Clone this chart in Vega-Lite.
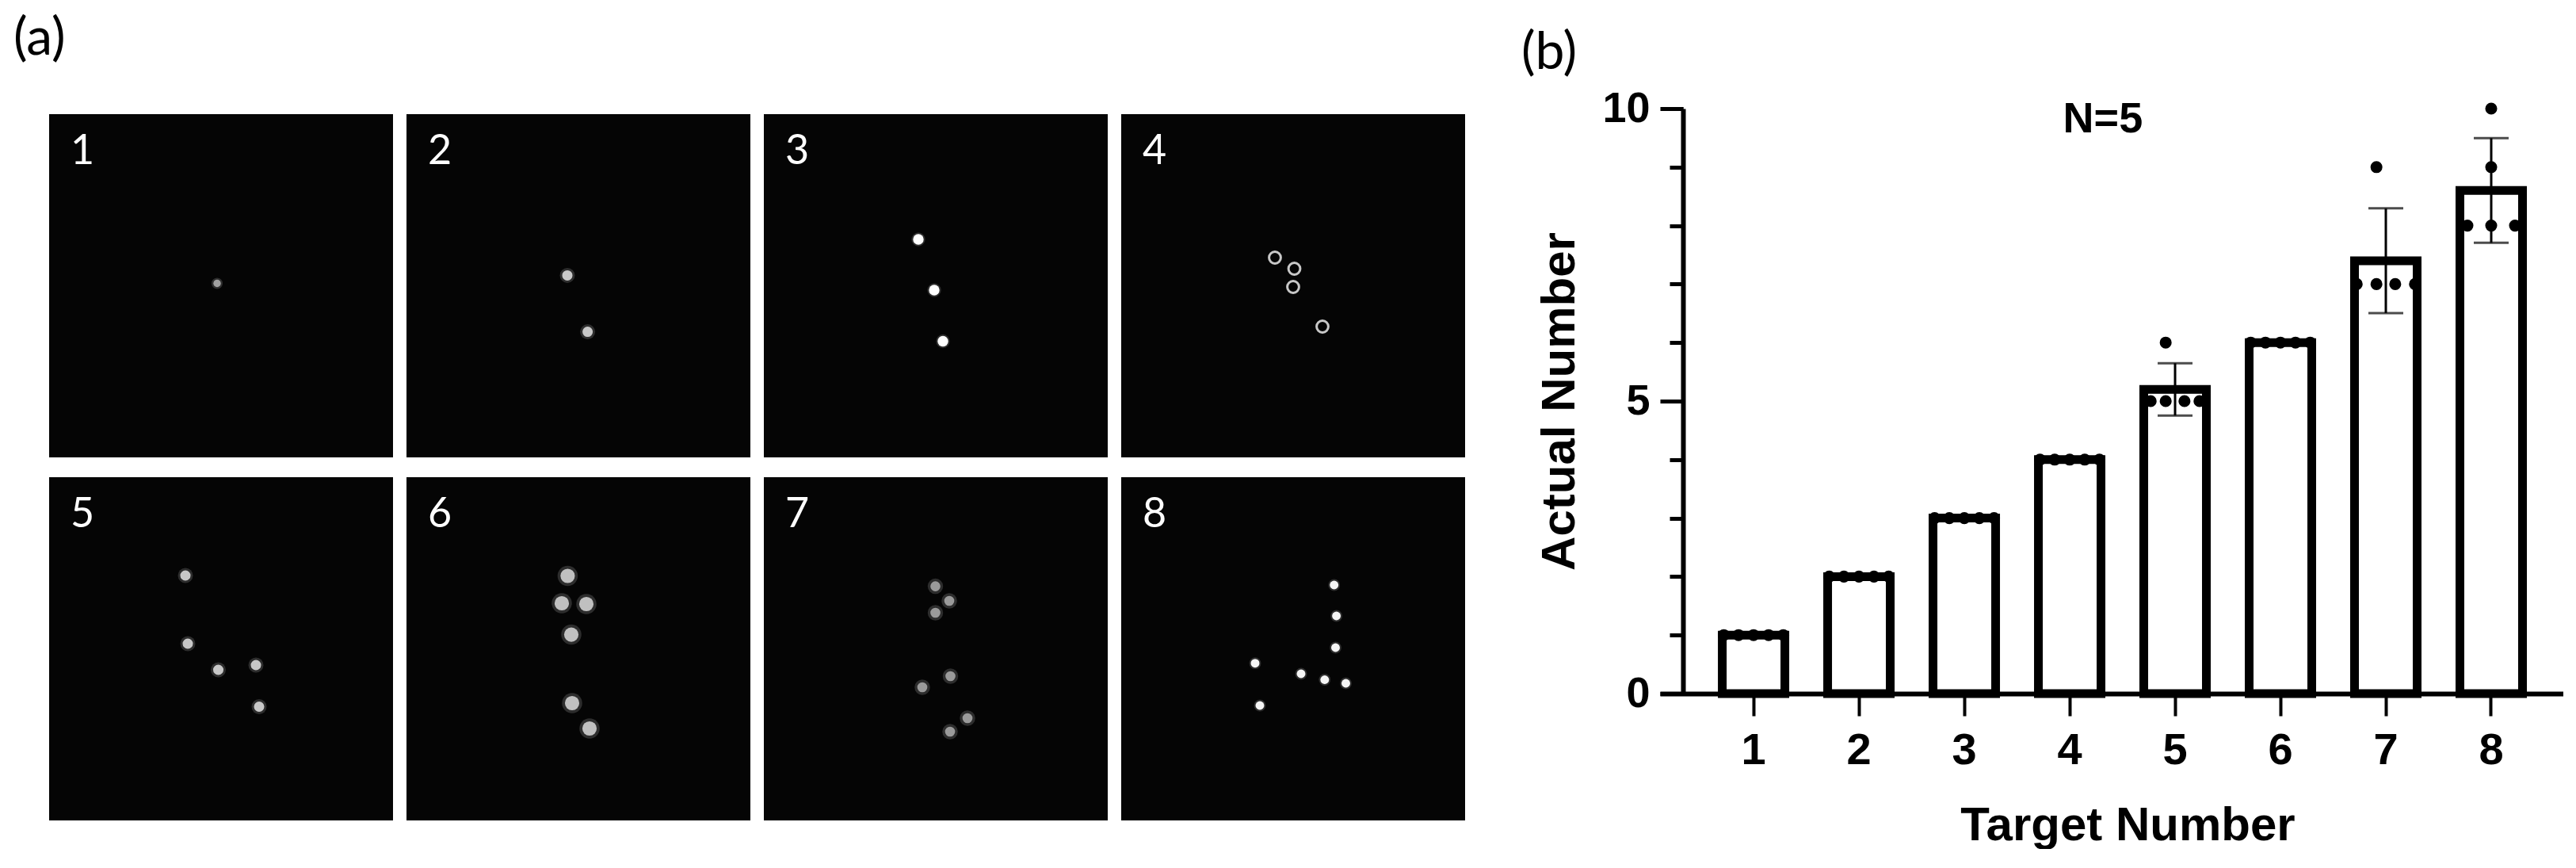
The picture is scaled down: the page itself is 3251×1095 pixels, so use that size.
{
  "$schema": "https://vega.github.io/schema/vega-lite/v6.json",
  "background": "white",
  "padding": {"left": 17, "top": 16, "right": 0, "bottom": 0},
  "spacing": 70,
  "config": {
    "view": {"stroke": null},
    "font": "Liberation Sans",
    "header": {"labels": false, "title": null, "labelFontSize": 1, "labelColor": "transparent", "labelPadding": 0, "titlePadding": 0},
    "headerFacet": {"labels": false, "title": null, "labelFontSize": 1, "labelColor": "transparent", "labelPadding": 0, "titlePadding": 0}
  },
  "datasets": {
    "dots": [
      {"panel": 1, "x": 212, "y": 213.5},
      {"panel": 2, "x": 203, "y": 203.4},
      {"panel": 2, "x": 228.6, "y": 274.6},
      {"panel": 3, "x": 195, "y": 158},
      {"panel": 3, "x": 215, "y": 222},
      {"panel": 3, "x": 226, "y": 286.5},
      {"panel": 4, "x": 194, "y": 181},
      {"panel": 4, "x": 218.5, "y": 195},
      {"panel": 4, "x": 217, "y": 218},
      {"panel": 4, "x": 254, "y": 268},
      {"panel": 5, "x": 172, "y": 124},
      {"panel": 5, "x": 175, "y": 210},
      {"panel": 5, "x": 213.5, "y": 243},
      {"panel": 5, "x": 261, "y": 237},
      {"panel": 5, "x": 265, "y": 289.5},
      {"panel": 6, "x": 203.4, "y": 124.5},
      {"panel": 6, "x": 196, "y": 159},
      {"panel": 6, "x": 227, "y": 160},
      {"panel": 6, "x": 208, "y": 198.6},
      {"panel": 6, "x": 209, "y": 285},
      {"panel": 6, "x": 231, "y": 317},
      {"panel": 7, "x": 216.5, "y": 137.6},
      {"panel": 7, "x": 234, "y": 156},
      {"panel": 7, "x": 216.5, "y": 171},
      {"panel": 7, "x": 235.5, "y": 251},
      {"panel": 7, "x": 200, "y": 265},
      {"panel": 7, "x": 257, "y": 304},
      {"panel": 7, "x": 235, "y": 321},
      {"panel": 8, "x": 268.7, "y": 136},
      {"panel": 8, "x": 271.6, "y": 175},
      {"panel": 8, "x": 270.5, "y": 215},
      {"panel": 8, "x": 169, "y": 234.7},
      {"panel": 8, "x": 227, "y": 248},
      {"panel": 8, "x": 256.8, "y": 255.5},
      {"panel": 8, "x": 283.5, "y": 260},
      {"panel": 8, "x": 175, "y": 288}
    ],
    "counts": [
      {"target": 1, "actual": 1, "jitter": -0.95},
      {"target": 1, "actual": 1, "jitter": -0.48},
      {"target": 1, "actual": 1, "jitter": 0},
      {"target": 1, "actual": 1, "jitter": 0.48},
      {"target": 1, "actual": 1, "jitter": 0.95},
      {"target": 2, "actual": 2, "jitter": -0.95},
      {"target": 2, "actual": 2, "jitter": -0.48},
      {"target": 2, "actual": 2, "jitter": 0},
      {"target": 2, "actual": 2, "jitter": 0.48},
      {"target": 2, "actual": 2, "jitter": 0.95},
      {"target": 3, "actual": 3, "jitter": -0.95},
      {"target": 3, "actual": 3, "jitter": -0.48},
      {"target": 3, "actual": 3, "jitter": 0},
      {"target": 3, "actual": 3, "jitter": 0.48},
      {"target": 3, "actual": 3, "jitter": 0.95},
      {"target": 4, "actual": 4, "jitter": -0.95},
      {"target": 4, "actual": 4, "jitter": -0.48},
      {"target": 4, "actual": 4, "jitter": 0},
      {"target": 4, "actual": 4, "jitter": 0.48},
      {"target": 4, "actual": 4, "jitter": 0.95},
      {"target": 5, "actual": 6, "jitter": -0.3},
      {"target": 5, "actual": 5, "jitter": -0.78},
      {"target": 5, "actual": 5, "jitter": -0.3},
      {"target": 5, "actual": 5, "jitter": 0.3},
      {"target": 5, "actual": 5, "jitter": 0.78},
      {"target": 6, "actual": 6, "jitter": -0.95},
      {"target": 6, "actual": 6, "jitter": -0.48},
      {"target": 6, "actual": 6, "jitter": 0},
      {"target": 6, "actual": 6, "jitter": 0.48},
      {"target": 6, "actual": 6, "jitter": 0.95},
      {"target": 7, "actual": 9, "jitter": -0.3},
      {"target": 7, "actual": 7, "jitter": -0.93},
      {"target": 7, "actual": 7, "jitter": -0.3},
      {"target": 7, "actual": 7, "jitter": 0.3},
      {"target": 7, "actual": 7, "jitter": 0.93},
      {"target": 8, "actual": 10, "jitter": 0},
      {"target": 8, "actual": 9, "jitter": 0},
      {"target": 8, "actual": 8, "jitter": -0.76},
      {"target": 8, "actual": 8, "jitter": 0},
      {"target": 8, "actual": 8, "jitter": 0.76}
    ]
  },
  "hconcat": [
    {
      "data": {"name": "dots"},
      "title": {"text": "(a)", "anchor": "start", "frame": "bounds", "font": "Lato", "fontSize": 66, "fontWeight": "normal", "color": "black", "baseline": "alphabetic", "offset": 8, "dx": -45},
      "columns": 4,
      "spacing": {"row": 24, "column": 17},
      "facet": {"field": "panel", "type": "ordinal", "header": {"title": null, "labels": false, "labelFontSize": 1, "labelColor": "transparent", "labelPadding": 0, "titlePadding": 0}},
      "spec": {
        "width": 434,
        "height": 433,
        "view": {"fill": "#050505", "stroke": null},
        "layer": [
          {
            "transform": [{"filter": "datum.panel != 4"}],
            "mark": {"type": "circle", "opacity": 0.3, "color": "#8a8a8a"},
            "encoding": {
              "x": {"field": "x", "type": "quantitative", "scale": {"domain": [0, 434], "nice": false, "zero": false}, "axis": null},
              "y": {"field": "y", "type": "quantitative", "scale": {"domain": [0, 433], "nice": false, "zero": false, "reverse": true}, "axis": null},
              "size": {"condition": [
                {"test": "datum.panel == 1", "value": 200},
                {"test": "datum.panel == 3", "value": 300},
                {"test": "datum.panel == 6", "value": 650},
                {"test": "datum.panel == 7", "value": 380},
                {"test": "datum.panel == 8", "value": 220}
              ], "value": 360}
            }
          },
          {
            "transform": [{"filter": "datum.panel != 4"}],
            "mark": {"type": "circle", "opacity": 1},
            "encoding": {
              "x": {"field": "x", "type": "quantitative", "axis": null},
              "y": {"field": "y", "type": "quantitative", "axis": null},
              "size": {"condition": [
                {"test": "datum.panel == 1", "value": 90},
                {"test": "datum.panel == 3", "value": 180},
                {"test": "datum.panel == 6", "value": 330},
                {"test": "datum.panel == 7", "value": 160},
                {"test": "datum.panel == 8", "value": 120}
              ], "value": 170},
              "color": {"condition": [
                {"test": "datum.panel == 1", "value": "#a0a0a0"},
                {"test": "datum.panel == 3", "value": "#ffffff"},
                {"test": "datum.panel == 6", "value": "#c0c0c0"},
                {"test": "datum.panel == 7", "value": "#9a9a9a"},
                {"test": "datum.panel == 8", "value": "#f5f5f5"}
              ], "value": "#c8c8c8"}
            }
          },
          {
            "transform": [{"filter": "datum.panel == 4"}],
            "mark": {"type": "point", "shape": "circle", "filled": false, "stroke": "#c8c8c8", "strokeWidth": 3, "size": 220, "opacity": 1},
            "encoding": {
              "x": {"field": "x", "type": "quantitative", "axis": null},
              "y": {"field": "y", "type": "quantitative", "axis": null}
            }
          },
          {
            "transform": [{"aggregate": [{"op": "count", "as": "n"}], "groupby": ["panel"]}],
            "mark": {"type": "text", "font": "Lato", "fontSize": 52, "color": "white", "align": "left", "baseline": "alphabetic"},
            "encoding": {
              "x": {"datum": 27, "type": "quantitative", "axis": null},
              "y": {"datum": 63, "type": "quantitative", "axis": null},
              "text": {"field": "panel", "type": "nominal"}
            }
          }
        ]
      }
    },
    {
      "data": {"name": "counts"},
      "width": 1140,
      "height": 731,
      "title": {"text": "(b)", "anchor": "start", "frame": "bounds", "font": "Lato", "fontSize": 66, "fontWeight": "normal", "color": "black", "baseline": "alphabetic", "offset": -43, "dx": -19},
      "resolve": {"axis": {"y": "independent"}, "scale": {"xOffset": "independent"}},
      "layer": [
        {
          "mark": {"type": "bar", "fill": "white", "stroke": "black", "strokeWidth": 11},
          "encoding": {
            "x": {
              "field": "target", "type": "ordinal", "title": "Target Number",
              "scale": {"type": "band", "paddingInner": 0.406, "paddingOuter": 0.489, "align": 0.604},
              "axis": {"labelAngle": 0, "tickSize": 28, "tickWidth": 4, "domainWidth": 6, "domainColor": "black", "tickColor": "black", "labelFont": "Liberation Sans", "labelFontSize": 56, "labelFontWeight": "bold", "labelColor": "black", "labelPadding": 16, "titleFont": "Liberation Sans", "titleFontSize": 60, "titleFontWeight": "bold", "titleColor": "black", "titlePadding": 38, "titleX": 590}
            },
            "y": {
              "aggregate": "mean", "field": "actual", "type": "quantitative", "title": "Actual Number",
              "scale": {"domain": [0, 10], "range": [731, -7], "nice": false, "zero": true},
              "axis": {"orient": "left", "offset": -29, "values": [0, 1, 2, 3, 4, 5, 6, 7, 8, 9, 10], "labelExpr": "datum.value % 5 === 0 ? datum.label : ''", "tickSize": 17, "tickWidth": 5, "domainWidth": 6, "domainColor": "black", "tickColor": "black", "grid": false, "labelFont": "Liberation Sans", "labelFontSize": 54, "labelFontWeight": "bold", "labelColor": "black", "labelPadding": 25, "labelFlush": false, "labelOverlap": false, "titleFont": "Liberation Sans", "titleFontSize": 60, "titleFontWeight": "bold", "titleColor": "black", "titlePadding": 22}
            }
          }
        },
        {
          "mark": {"type": "errorbar", "extent": "stdev", "ticks": {"size": 44, "thickness": 3}, "thickness": 3, "color": "black"},
          "encoding": {
            "x": {"field": "target", "type": "ordinal", "title": "Target Number"},
            "y": {"field": "actual", "type": "quantitative", "title": "Actual Number", "axis": null}
          }
        },
        {
          "mark": {"type": "circle", "color": "black", "opacity": 1, "size": 227},
          "encoding": {
            "x": {"field": "target", "type": "ordinal", "title": "Target Number"},
            "xOffset": {"field": "jitter", "type": "quantitative", "scale": {"domain": [-1, 1]}},
            "y": {
              "field": "actual", "type": "quantitative",
              "axis": {"orient": "left", "offset": -29, "values": [0, 5, 10], "labels": false, "domain": false, "title": null, "tickSize": 29, "tickWidth": 5, "tickColor": "black", "grid": false}
            }
          }
        },
        {
          "data": {"values": [{"label": "N=5"}]},
          "mark": {"type": "text", "font": "Liberation Sans", "fontSize": 54, "fontWeight": "bold", "align": "center", "baseline": "middle", "color": "black"},
          "encoding": {
            "x": {"datum": 4, "type": "ordinal", "bandPosition": 1.03, "title": "Target Number"},
            "y": {"datum": 9.81, "type": "quantitative", "axis": null},
            "text": {"field": "label", "type": "nominal"}
          }
        }
      ]
    }
  ]
}
